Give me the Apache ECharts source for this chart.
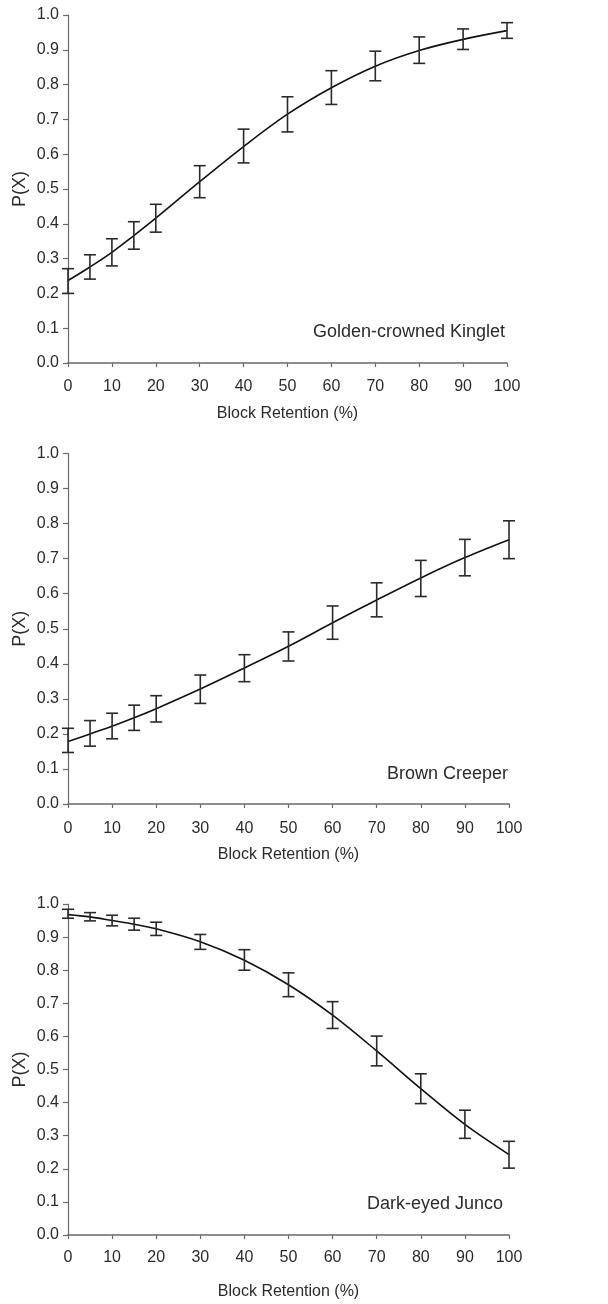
<!DOCTYPE html>
<html>
<head>
<meta charset="utf-8">
<script src="https://cdn.jsdelivr.net/npm/echarts@6/dist/echarts.min.js"></script>
<style>
  html, body { margin: 0; padding: 0; background: #fff; }
  #chart { width: 608px; height: 1304px; }
</style>
</head>
<body>
<div id="chart"></div>
<script>
// Block retention levels (%) at which occupancy probability was estimated
const retention = [0, 5, 10, 15, 20, 30, 40, 50, 60, 70, 80, 90, 100];

// Species names shown inside each panel
const species = ['Golden-crowned Kinglet', 'Brown Creeper', 'Dark-eyed Junco'];

// Golden-crowned Kinglet: fitted P(X) with lower / upper confidence limits
const kingletP     = [0.237, 0.276, 0.318, 0.366, 0.416, 0.521, 0.622, 0.715, 0.791, 0.853, 0.898, 0.930, 0.955];
const kingletLow   = [0.200, 0.241, 0.279, 0.327, 0.376, 0.475, 0.575, 0.664, 0.743, 0.811, 0.861, 0.901, 0.933];
const kingletHigh  = [0.271, 0.311, 0.357, 0.406, 0.456, 0.567, 0.672, 0.765, 0.840, 0.896, 0.937, 0.960, 0.978];

// Brown Creeper
const creeperP     = [0.178, 0.200, 0.222, 0.246, 0.272, 0.328, 0.388, 0.450, 0.517, 0.582, 0.645, 0.703, 0.754];
const creeperLow   = [0.147, 0.165, 0.186, 0.210, 0.234, 0.287, 0.349, 0.408, 0.470, 0.534, 0.592, 0.651, 0.700];
const creeperHigh  = [0.216, 0.238, 0.259, 0.282, 0.309, 0.368, 0.426, 0.491, 0.565, 0.631, 0.695, 0.755, 0.808];

// Dark-eyed Junco
const juncoP       = [0.968, 0.961, 0.950, 0.939, 0.925, 0.886, 0.830, 0.756, 0.664, 0.556, 0.442, 0.334, 0.243];
const juncoLow     = [0.957, 0.949, 0.934, 0.921, 0.905, 0.863, 0.800, 0.720, 0.624, 0.511, 0.397, 0.292, 0.202];
const juncoHigh    = [0.984, 0.974, 0.966, 0.957, 0.945, 0.908, 0.862, 0.792, 0.705, 0.601, 0.487, 0.377, 0.283];

// Axis tick values and labels
const xTicks = [0, 10, 20, 30, 40, 50, 60, 70, 80, 90, 100];
const yTickLabels = ['0.0', '0.1', '0.2', '0.3', '0.4', '0.5', '0.6', '0.7', '0.8', '0.9', '1.0'];

const xTitle = 'Block Retention (%)';
const yTitle = 'P(X)';

const panels = [
  { name: species[0], p: kingletP, low: kingletLow, high: kingletHigh },
  { name: species[1], p: creeperP, low: creeperLow, high: creeperHigh },
  { name: species[2], p: juncoP,   low: juncoLow,   high: juncoHigh }
];

// Panel frames (pixel geometry of each plot area)
const frames = [
  { top: 15,    height: 348,   right: 101, nameGap: 43, labelMargin: 16, titleTop: 318, titleRight: 104 },
  { top: 453.5, height: 350.5, right: 99,  nameGap: 43, labelMargin: 17, titleTop: 760, titleRight: 101 },
  { top: 904,   height: 331,   right: 99,  nameGap: 49, labelMargin: 15, titleTop: 1190, titleRight: 106 }
];

const FONT = 'Liberation Sans, Arial, sans-serif';
const TEXT = '#2b2b2b';
const AXIS = '#6a6a6a';

const grids = [], xAxes = [], yAxes = [], series = [], titles = [];

panels.forEach((pn, i) => {
  const f = frames[i];
  grids.push({ left: 68, right: f.right, top: f.top, height: f.height });

  xAxes.push({
    gridIndex: i, type: 'value', min: 0, max: 100, interval: 10,
    name: xTitle, nameLocation: 'middle', nameGap: f.nameGap, nameMoveOverlap: false,
    nameTextStyle: { fontFamily: FONT, fontSize: 16, color: TEXT },
    axisLine: { show: true, lineStyle: { color: AXIS, width: 1.6 } },
    axisTick: { show: true, length: 4, lineStyle: { color: AXIS, width: 1.2 } },
    axisLabel: {
      margin: f.labelMargin, fontFamily: FONT, fontSize: 16, color: TEXT,
      formatter: v => xTicks.includes(v) ? String(v) : ''
    },
    splitLine: { show: false }
  });

  yAxes.push({
    gridIndex: i, type: 'value', min: 0, max: 1, interval: 0.1,
    name: yTitle, nameLocation: 'middle', nameGap: 39, nameMoveOverlap: false,
    nameTextStyle: { fontFamily: FONT, fontSize: 18, color: TEXT },
    axisLine: { show: true, lineStyle: { color: AXIS, width: 1.2 } },
    axisTick: { show: true, length: 5, lineStyle: { color: AXIS, width: 1.2 } },
    axisLabel: {
      margin: 9, fontFamily: FONT, fontSize: 16, color: TEXT,
      formatter: v => yTickLabels[Math.round(v * 10)]
    },
    splitLine: { show: false }
  });

  titles.push({
    text: pn.name, right: f.titleRight - 6, top: f.titleTop,
    textStyle: { fontFamily: FONT, fontSize: 18, fontWeight: 'normal', color: TEXT }
  });

  // Fitted curve through the estimates
  series.push({
    type: 'line', xAxisIndex: i, yAxisIndex: i,
    data: retention.map((x, k) => [x, pn.p[k]]),
    smooth: 0.35, showSymbol: false, symbol: 'none',
    lineStyle: { color: '#111', width: 1.6 },
    z: 3, silent: true
  });

  // Confidence intervals as capped vertical bars
  series.push({
    type: 'custom', xAxisIndex: i, yAxisIndex: i,
    data: retention.map((x, k) => [x, pn.low[k], pn.high[k]]),
    renderItem: (params, api) => {
      const lo = api.coord([api.value(0), api.value(1)]);
      const hi = api.coord([api.value(0), api.value(2)]);
      const cap = 6;
      const style = { stroke: '#2a2a2a', lineWidth: 1.6, fill: 'none' };
      return {
        type: 'group',
        children: [
          { type: 'line', shape: { x1: lo[0], y1: lo[1], x2: hi[0], y2: hi[1] }, style },
          { type: 'line', shape: { x1: hi[0] - cap, y1: hi[1], x2: hi[0] + cap, y2: hi[1] }, style },
          { type: 'line', shape: { x1: lo[0] - cap, y1: lo[1], x2: lo[0] + cap, y2: lo[1] }, style }
        ]
      };
    },
    encode: { x: 0, y: [1, 2] },
    clip: false, z: 4, silent: true
  });
});

const chart = echarts.init(document.getElementById('chart'), null, { renderer: 'canvas' });
chart.setOption({
  backgroundColor: '#ffffff',
  animation: false,
  title: titles,
  grid: grids,
  xAxis: xAxes,
  yAxis: yAxes,
  series: series
});
</script>
</body>
</html>
